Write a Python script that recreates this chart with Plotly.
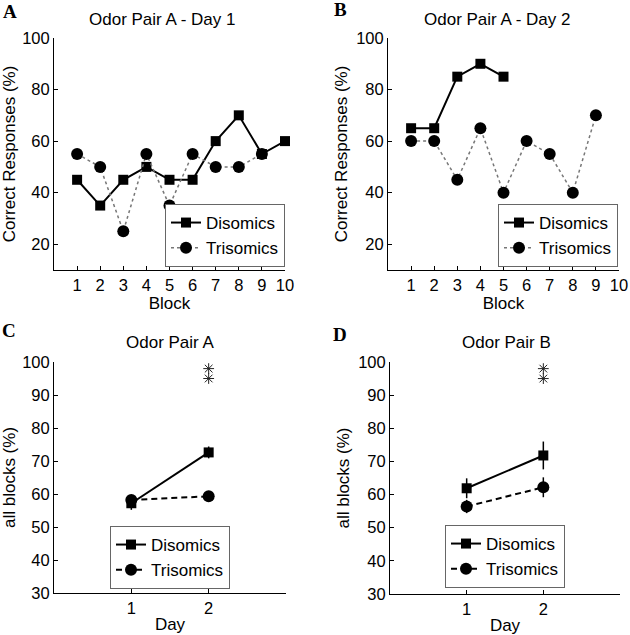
import plotly.graph_objects as go

W, H = 630, 635

blocks = list(range(1, 11))
day1_dis = [45, 35, 45, 50, 45, 45, 60, 70, 55, 60]
day1_tri = [55, 50, 25, 55, 35, 55, 50, 50, 55]
day2_dis = [65, 65, 85, 90, 85]
day2_tri = [60, 60, 45, 65, 40, 60, 55, 40, 70]

days = [1, 2]
pairA_dis = [57.2, 72.6]
pairA_dis_err = [2.0, 1.8]
pairA_tri = [58.2, 59.3]
pairA_tri_err = [1.2, 1.4]
pairB_dis = [61.9, 71.8]
pairB_dis_err = [3.0, 4.2]
pairB_tri = [56.4, 62.2]
pairB_tri_err = [2.0, 3.0]
star_x = [2, 2]
star_y = [98, 95]

FONT = "Liberation Sans, Arial, Helvetica, sans-serif"


def px_x(p):
    return p / W


def px_y(p):
    return 1 - p / H


def axis_style(**kw):
    d = dict(
        showline=True, linecolor="black", linewidth=1,
        ticks="inside", ticklen=4, tickcolor="black",
        showgrid=False, zeroline=False, mirror=False, automargin=False,
        tickfont=dict(size=16.5, color="black"),
        title_font=dict(size=17, color="black"),
        ticklabeloverflow="allow",
    )
    d.update(kw)
    return d


fig = go.Figure()

# --- top panels: per block
for xa, ya, lg, dis, tri in [("x", "y", "legend", day1_dis, day1_tri),
                             ("x2", "y2", "legend2", day2_dis, day2_tri)]:
    fig.add_trace(go.Scatter(
        x=blocks[:len(dis)], y=dis, name="Disomics", mode="lines+markers",
        line=dict(color="black", width=2),
        marker=dict(symbol="square", size=10, color="black"),
        xaxis=xa, yaxis=ya, legend=lg, cliponaxis=False))
    fig.add_trace(go.Scatter(
        x=blocks[:len(tri)], y=tri, name="Trisomics", mode="lines+markers",
        line=dict(color="#777777", width=1.5, dash="dot"),
        marker=dict(symbol="circle", size=12, color="black"),
        xaxis=xa, yaxis=ya, legend=lg, cliponaxis=False))

# --- bottom panels: all blocks by day
for xa, ya, lg, dis, dis_e, tri, tri_e in [
        ("x3", "y3", "legend3", pairA_dis, pairA_dis_err, pairA_tri, pairA_tri_err),
        ("x4", "y4", "legend4", pairB_dis, pairB_dis_err, pairB_tri, pairB_tri_err)]:
    fig.add_trace(go.Scatter(
        x=days, y=tri, name="Trisomics", mode="lines+markers",
        line=dict(color="black", width=2, dash="6px,4px"),
        marker=dict(symbol="circle", size=12, color="black"),
        error_y=dict(type="data", array=tri_e, width=0, thickness=1.5, color="black"),
        xaxis=xa, yaxis=ya, legend=lg, cliponaxis=False))
    fig.add_trace(go.Scatter(
        x=days, y=dis, name="Disomics", mode="lines+markers",
        line=dict(color="black", width=2),
        marker=dict(symbol="square", size=10, color="black"),
        error_y=dict(type="data", array=dis_e, width=0, thickness=1.5, color="black"),
        xaxis=xa, yaxis=ya, legend=lg, cliponaxis=False))
    fig.add_trace(go.Scatter(
        x=star_x, y=star_y, mode="markers", showlegend=False,
        marker=dict(symbol="asterisk-open", size=9, color="#222222",
                    line=dict(width=1, color="#222222")),
        xaxis=xa, yaxis=ya, cliponaxis=False))

top_y = [px_y(270), px_y(38)]
bot_y = [px_y(593), px_y(362)]

fig.update_layout(
    width=W, height=H,
    margin=dict(l=0, r=0, t=0, b=0),
    paper_bgcolor="white", plot_bgcolor="white",
    font=dict(family=FONT, color="black", size=17),
    xaxis=axis_style(domain=[px_x(54), px_x(285)], range=[0, 10], tickvals=blocks,
                     anchor="y", title=dict(text="Block", standoff=2)),
    yaxis=axis_style(domain=top_y, range=[10, 100], tickvals=[20, 40, 60, 80, 100],
                     anchor="x", title=dict(text="Correct Responses (%)", standoff=4)),
    xaxis2=axis_style(domain=[px_x(388), px_x(619)], range=[0, 10], tickvals=blocks,
                      anchor="y2", title=dict(text="Block", standoff=2)),
    yaxis2=axis_style(domain=top_y, range=[10, 100], tickvals=[20, 40, 60, 80, 100],
                      anchor="x2", title=dict(text="Correct Responses (%)", standoff=4)),
    xaxis3=axis_style(domain=[px_x(54), px_x(286)], range=[0, 3], tickvals=days,
                      anchor="y3", title=dict(text="Day", standoff=2)),
    yaxis3=axis_style(domain=bot_y, range=[30, 100], dtick=10,
                      anchor="x3", title=dict(text="all blocks (%)", standoff=4)),
    xaxis4=axis_style(domain=[px_x(390), px_x(620)], range=[0, 3], tickvals=days,
                      anchor="y4", title=dict(text="Day", standoff=2)),
    yaxis4=axis_style(domain=[px_y(594), px_y(362)], range=[30, 100], dtick=10,
                      anchor="x4", title=dict(text="all blocks (%)", standoff=4)),
)

leg = dict(bgcolor="white", bordercolor="#666666", borderwidth=1,
           font=dict(size=17, color="black"), itemwidth=30, tracegroupgap=0,
           traceorder="normal")
fig.update_layout(
    legend=dict(leg, x=px_x(285), y=px_y(267), xanchor="right", yanchor="bottom"),
    legend2=dict(leg, x=px_x(618), y=px_y(267), xanchor="right", yanchor="bottom"),
    legend3=dict(leg, x=px_x(170), y=px_y(589), xanchor="center", yanchor="bottom",
                 traceorder="reversed"),
    legend4=dict(leg, x=px_x(505), y=px_y(588), xanchor="center", yanchor="bottom",
                 traceorder="reversed"),
)

titles = [("Odor Pair A - Day 1", 162, 19), ("Odor Pair A - Day 2", 497, 19),
          ("Odor Pair A", 170, 342), ("Odor Pair B", 506, 342)]
for text, x, y in titles:
    fig.add_annotation(text=text, x=px_x(x), y=px_y(y), xref="paper", yref="paper",
                       showarrow=False, font=dict(size=17), xanchor="center", yanchor="middle")

letters = [("A", 10, 11), ("B", 340, 9), ("C", 9, 330), ("D", 340, 334)]
for text, x, y in letters:
    fig.add_annotation(text="<b>%s</b>" % text, x=px_x(x), y=px_y(y), xref="paper", yref="paper",
                       showarrow=False, xanchor="center", yanchor="middle",
                       font=dict(size=19, family="Liberation Serif, Times New Roman, serif"))

# drop the default 8px body margin and any scrollbars so the figure fills the window
fig.write_html(
    "out.html", config={"displayModeBar": False},
    post_script=("document.body.style.margin = '0px';"
                 "document.body.style.overflow = 'hidden';"
                 "document.documentElement.style.overflow = 'hidden';"))
